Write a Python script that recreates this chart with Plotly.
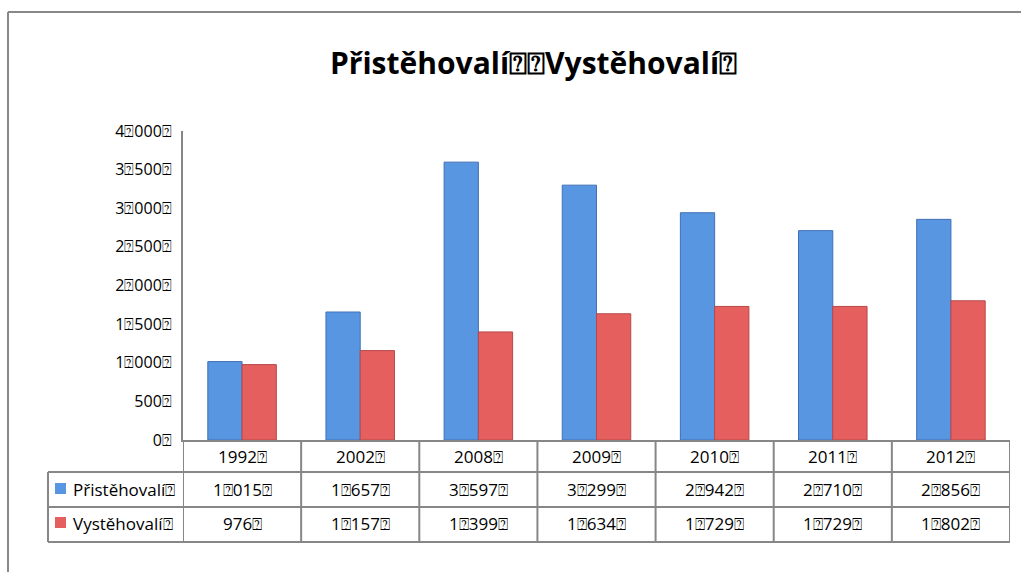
import plotly.graph_objects as go

years = ["1992", "2002", "2008", "2009", "2010", "2011", "2012"]
prist = [1015, 1657, 3597, 3299, 2942, 2710, 2856]
vyst = [976, 1157, 1399, 1634, 1729, 1729, 1802]
prist_txt = ["1⍰015⍰", "1⍰657⍰", "3⍰597⍰", "3⍰299⍰", "2⍰942⍰", "2⍰710⍰", "2⍰856⍰"]
vyst_txt = ["976⍰", "1⍰157⍰", "1⍰399⍰", "1⍰634⍰", "1⍰729⍰", "1⍰729⍰", "1⍰802⍰"]
tick_vals = [0, 500, 1000, 1500, 2000, 2500, 3000, 3500, 4000]
tick_txt = ["0⍰", "500⍰", "1⍰000⍰", "1⍰500⍰", "2⍰000⍰", "2⍰500⍰", "3⍰000⍰", "3⍰500⍰", "4⍰000⍰"]
series_names = ["Přistěhovalí⍰", "Vystěhovalí⍰"]
title_txt = "Přistěhovalí⍰⍰Vystěhovalí⍰"

W, H = 1021, 572
L, R, T, B = 183, 1010, 131, 440
FONT = "Open Sans"
GRID = "#878787"
BLUE = "#5896E2"
RED = "#E65F5F"

def px(x):
    return (x - L) / (R - L)

def py(y):
    return (B - y) / (B - T)

fig = go.Figure()
fig.add_trace(go.Bar(x=years, y=prist, name=series_names[0],
                     marker=dict(color=BLUE, line=dict(color="#4170B5", width=1))))
fig.add_trace(go.Bar(x=years, y=vyst, name=series_names[1],
                     marker=dict(color=RED, line=dict(color="#B84848", width=1))))

shapes = []
# outer frame (partial)
shapes.append(dict(type="line", xref="paper", yref="paper", x0=px(8), x1=px(1021), y0=py(12), y1=py(12),
                   line=dict(color="#888888", width=2)))
shapes.append(dict(type="line", xref="paper", yref="paper", x0=px(8), x1=px(8), y0=py(12), y1=py(572),
                   line=dict(color="#888888", width=2)))
# table vertical lines
n = len(years)
for i in range(n + 1):
    shapes.append(dict(type="line", xref="x", yref="paper", x0=i - 0.5, x1=i - 0.5, y0=py(440), y1=py(542),
                       line=dict(color=GRID, width=2)))
shapes.append(dict(type="line", xref="paper", yref="paper", x0=px(48), x1=px(48), y0=py(472), y1=py(542),
                   line=dict(color=GRID, width=2)))
for yy in [472, 507, 542]:
    shapes.append(dict(type="line", xref="paper", yref="paper", x0=px(48), x1=1, y0=py(yy), y1=py(yy),
                       line=dict(color=GRID, width=2)))
# legend keys
for yc, col in [(489, BLUE), (523, RED)]:
    shapes.append(dict(type="rect", xref="paper", yref="paper", x0=px(55), x1=px(66), y0=py(yc + 5), y1=py(yc - 6),
                       fillcolor=col, line=dict(width=0)))

ann = []
ann.append(dict(text="<b>" + title_txt + "</b>", xref="paper", yref="paper", x=px(533), y=py(63),
                xanchor="center", yanchor="middle",
                showarrow=False, font=dict(size=30, color="black", family=FONT)))
for i, yr in enumerate(years):
    for txt, yc in [(yr + "⍰", 456), (prist_txt[i], 489), (vyst_txt[i], 523)]:
        ann.append(dict(text=txt, xref="x", yref="paper", x=i, y=py(yc), xanchor="center", yanchor="middle",
                        showarrow=False, font=dict(size=17, color="black", family=FONT)))
for name, yc in zip(series_names, [489, 523]):
    ann.append(dict(text=name, xref="paper", yref="paper", x=px(71), y=py(yc), xanchor="left", yanchor="middle",
                    showarrow=False, font=dict(size=17, color="black", family=FONT)))

fig.update_layout(
    width=W, height=H,
    margin=dict(l=L, r=W - R, t=T, b=H - B, pad=0),
    paper_bgcolor="white", plot_bgcolor="white",
    barmode="group", bargap=0.42, bargroupgap=0,
    showlegend=False,
    font=dict(family=FONT, size=16, color="black"),
    xaxis=dict(type="category", showticklabels=False, showline=True, linecolor=GRID, linewidth=2,
               ticks="", showgrid=False, zeroline=False, range=[-0.5, n - 0.5]),
    yaxis=dict(range=[0, 4000], tickvals=tick_vals, ticktext=tick_txt, showline=True, linecolor=GRID,
               linewidth=2, ticks="", showgrid=False, zeroline=False, ticklabelstandoff=6,
               tickfont=dict(size=16, family=FONT)),
    shapes=shapes, annotations=ann,
)
fig.write_html("out.html", config={"displayModeBar": False},
               post_script="document.body.style.margin='0px';")
